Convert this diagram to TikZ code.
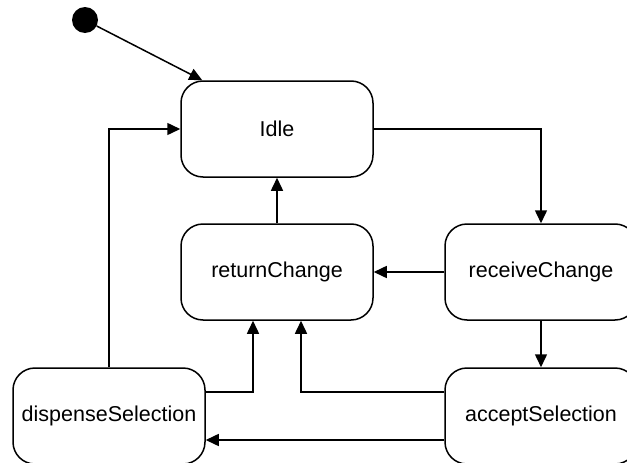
\documentclass[tikz,border=0pt]{standalone}
\usepackage{fontspec}
\setmainfont{Liberation Sans}
\usetikzlibrary{arrows.meta}
\begin{document}
\begin{tikzpicture}[x=1pt,y=-1pt,
  state/.style={draw, line width=1.5pt, rounded corners=22pt, minimum width=192pt,
    minimum height=96pt, inner sep=0pt, font=\fontsize{21.5}{24}\selectfont},
  initial/.style={circle, fill=black, minimum size=26pt, inner sep=0pt},
  trans/.style={-{Triangle[length=13pt,width=12pt]}, line width=1.5pt}]
  \useasboundingbox (0,0) rectangle (627,463);
  \clip (0,0) rectangle (627,463);

  % states
  \node[initial] (init) at (85,20) {};
  \node[state] (idle) at (277,129) {Idle};
  \node[state] (ret)  at (277,272) {returnChange};
  \node[state] (recv) at (541,272) {receiveChange};
  \node[state] (disp) at (109,416) {dispenseSelection};
  \node[state] (acc)  at (541,416) {acceptSelection};

  % transitions
  \draw[trans] (init) -- ([xshift=22pt]idle.north west);
  \draw[trans] (disp.north) |- (idle.west);
  \draw[trans] (idle.east) -| (recv.north);
  \draw[trans] (recv.west) -- (ret.east);
  \draw[trans] (ret.north) -- (idle.south);
  \draw[trans] (recv.south) -- (acc.north);
  \draw[trans] ([yshift=24pt]disp.east) -| ([xshift=-24pt]ret.south);
  \draw[trans] ([yshift=24pt]acc.west) -| ([xshift=24pt]ret.south);
  \draw[trans] ([yshift=-24pt]acc.west) -- ([yshift=-24pt]disp.east);
\end{tikzpicture}
\end{document}
